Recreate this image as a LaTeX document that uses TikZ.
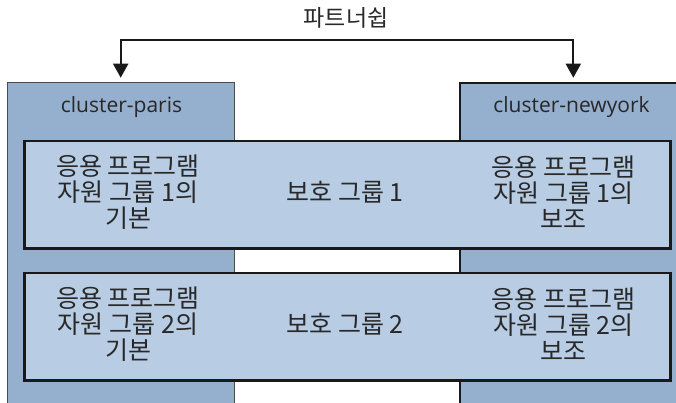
\documentclass[tikz,border=0pt]{standalone}
\usepackage{fontspec}
\setmainfont{Open Sans}
\newfontfamily\kr{Noto Sans CJK KR}
\usetikzlibrary{arrows.meta}
\definecolor{clfill}{RGB}{149,175,206}
\definecolor{pgfill}{RGB}{184,205,228}
\definecolor{txt}{RGB}{40,40,40}
\tikzset{
  clusterL/.style={draw=black!70, line width=1pt, fill=clfill, inner sep=0pt, anchor=north west},
  clusterR/.style={draw=black!90, line width=2pt, fill=clfill, inner sep=0pt, anchor=north west},
  pgbox/.style={draw=black!90, line width=2.2pt, fill=pgfill, inner sep=0pt, anchor=north west,
    minimum width=646pt, minimum height=107.3pt},
  cltext/.style={font=\fontsize{21}{24}\selectfont, text=txt},
  krtext/.style={font=\kr\fontsize{25}{26}\selectfont, text=txt, align=center, inner sep=0pt},
  link/.style={line width=2pt, draw=black!90, {Triangle[width=15pt,length=14pt]}-{Triangle[width=15pt,length=14pt]}, shorten <=4pt, shorten >=4pt}
}
\begin{document}
\begin{tikzpicture}[x=1pt,y=-1pt]
\useasboundingbox (0,0) rectangle (676,402);
\clip (0,0) rectangle (676,402);
\node[clusterL, minimum width=227pt, minimum height=340pt] (paris) at (7.3,81.7) {};
\node[clusterR, minimum width=240pt, minimum height=340pt] (newyork) at (459.3,81.7) {};
\node[cltext] (parislabel) at (121.5,107) {cluster-paris};
\node[cltext] (nylabel) at (571.5,107) {cluster-newyork};
\node[pgbox] (pg1) at (23.3,140) {};
\node[pgbox] (pg2) at (23.3,272) {};
\node[krtext] (p1) at (128,192.5) {응용 프로그램\\자원 그룹 1의\\기본};
\node[krtext] (g1) at (345,192.5) {보호 그룹 1};
\node[krtext] (s1) at (563.5,192.5) {응용 프로그램\\자원 그룹 1의\\보조};
\node[krtext] (p2) at (128,324.5) {응용 프로그램\\자원 그룹 2의\\기본};
\node[krtext] (g2) at (345,324.5) {보호 그룹 2};
\node[krtext] (s2) at (563.5,324.5) {응용 프로그램\\자원 그룹 2의\\보조};
\node[krtext, font=\kr\fontsize{23}{26}\selectfont] (title) at (346,18) {파트너쉽};
\coordinate (ap) at (120.7,40);
\coordinate (an) at (573.3,40);
\draw[link] (ap |- paris.north) -- (ap) -- (an) -- (an |- newyork.north);
\end{tikzpicture}
\end{document}
